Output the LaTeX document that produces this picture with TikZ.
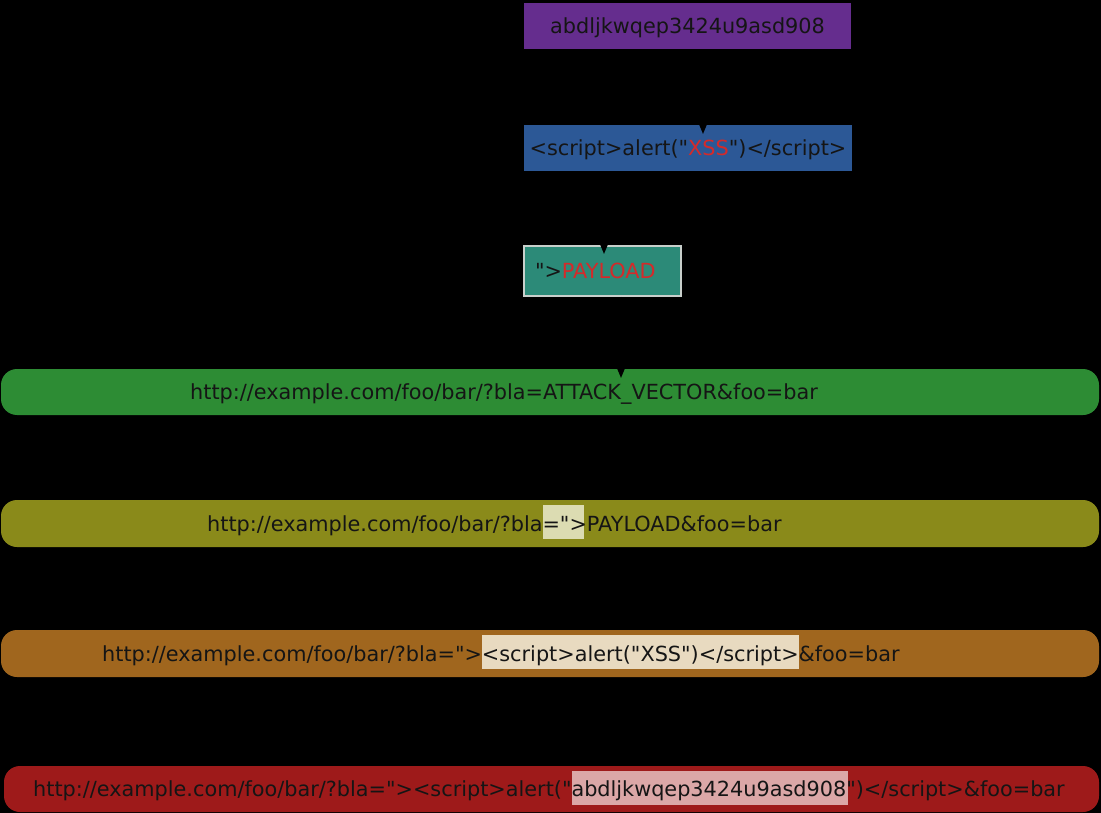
\documentclass[tikz,border=0pt]{standalone}
\usepackage{fontspec}
\setmainfont{DejaVu Sans}[Ligatures=TeXOff]
\usetikzlibrary{arrows.meta}
\definecolor{cPurple}{HTML}{652D8E}
\definecolor{cBlue}{HTML}{2C5896}
\definecolor{cTeal}{HTML}{2C8A78}
\definecolor{cTealBorder}{HTML}{C8CFCB}
\definecolor{cGreen}{HTML}{2D8C34}
\definecolor{cOlive}{HTML}{8A8A1A}
\definecolor{cOrange}{HTML}{A0661E}
\definecolor{cRed}{HTML}{9E1A1A}
\definecolor{cAlert}{HTML}{D42A2A}
\definecolor{cText}{HTML}{151515}
\definecolor{hlOlive}{HTML}{DCDCB2}
\definecolor{hlOrange}{HTML}{E8DAC0}
\definecolor{hlRed}{HTML}{DBA7A7}
\newcommand{\hlbox}[2]{{\setlength{\fboxsep}{0pt}\colorbox{#1}{\rule[-8pt]{0pt}{34pt}#2}}}
\tikzset{
  txtfont/.style={font=\fontsize{20.8}{25}\selectfont, text=cText, text height=15.2pt, text depth=0pt},
  topbox/.style={txtfont, minimum height=46pt, inner sep=0pt, draw=none},
  bar/.style={rounded corners=16pt, draw=none},
  bartext/.style={txtfont, inner sep=0pt, anchor=west},
  arr/.style={draw=black, line width=1.5pt, -{Triangle[length=9pt,width=7pt]}}
}
\begin{document}
\begin{tikzpicture}[x=1pt,y=-1pt]
\fill[black] (0,0) rectangle (1101,813);
\useasboundingbox (0,0) rectangle (1101,813);

% top boxes
\node[topbox, fill=cPurple, minimum width=327pt] (purple) at (687.5,26) {abdljkwqep3424u9asd908};
\node[topbox, fill=cBlue, minimum width=328pt] (blue) at (688,148) {<script>alert("\textcolor{cAlert}{XSS}")</script>};
\node[txtfont, fill=cTeal, draw=cTealBorder, line width=2pt, minimum height=50pt, inner ysep=0pt, inner xsep=11pt, text width=135pt, align=left] (teal) at (602.5,271) {">\textcolor{cAlert}{PAYLOAD}};

% bars
\draw[bar, fill=cGreen] (1,369) rectangle (1099,415);
\node[bartext] (greent) at (190,392) {http://example.com/foo/bar/?bla=ATTACK\_VECTOR\&foo=bar};
\coordinate (green) at (621,369);

\draw[bar, fill=cOlive] (1,500) rectangle (1099,547);
\node[bartext] (olivet) at (207,523.5) {http://example.com/foo/bar/?bla\hlbox{hlOlive}{=">\kern-3pt}\kern3pt PAYLOAD\&foo=bar};

\draw[bar, fill=cOrange] (1,630) rectangle (1099,677);
\node[bartext] (oranget) at (102,653.5) {http://example.com/foo/bar/?bla=">\hlbox{hlOrange}{<script>alert("XSS")</script>}\&foo=bar};

\draw[bar, fill=cRed] (4,766) rectangle (1099,812);
\node[bartext] (redt) at (33,789) {http://example.com/foo/bar/?bla="><script>alert("\hlbox{hlRed}{abdljkwqep3424u9asd908\kern2pt}\kern-2pt")</script>\&foo=bar};

% arrows (black on black; only their tips show)
\coordinate (tipA) at (703,134);
\coordinate (tipB) at (604,254);
\coordinate (tipC) at (621,378);
\draw[arr] (purple.south -| tipA) -- (tipA);
\draw[arr] (blue.south -| tipB) -- (tipB);
\draw[arr] (teal.south -| tipC) -- (tipC);
\end{tikzpicture}
\end{document}
